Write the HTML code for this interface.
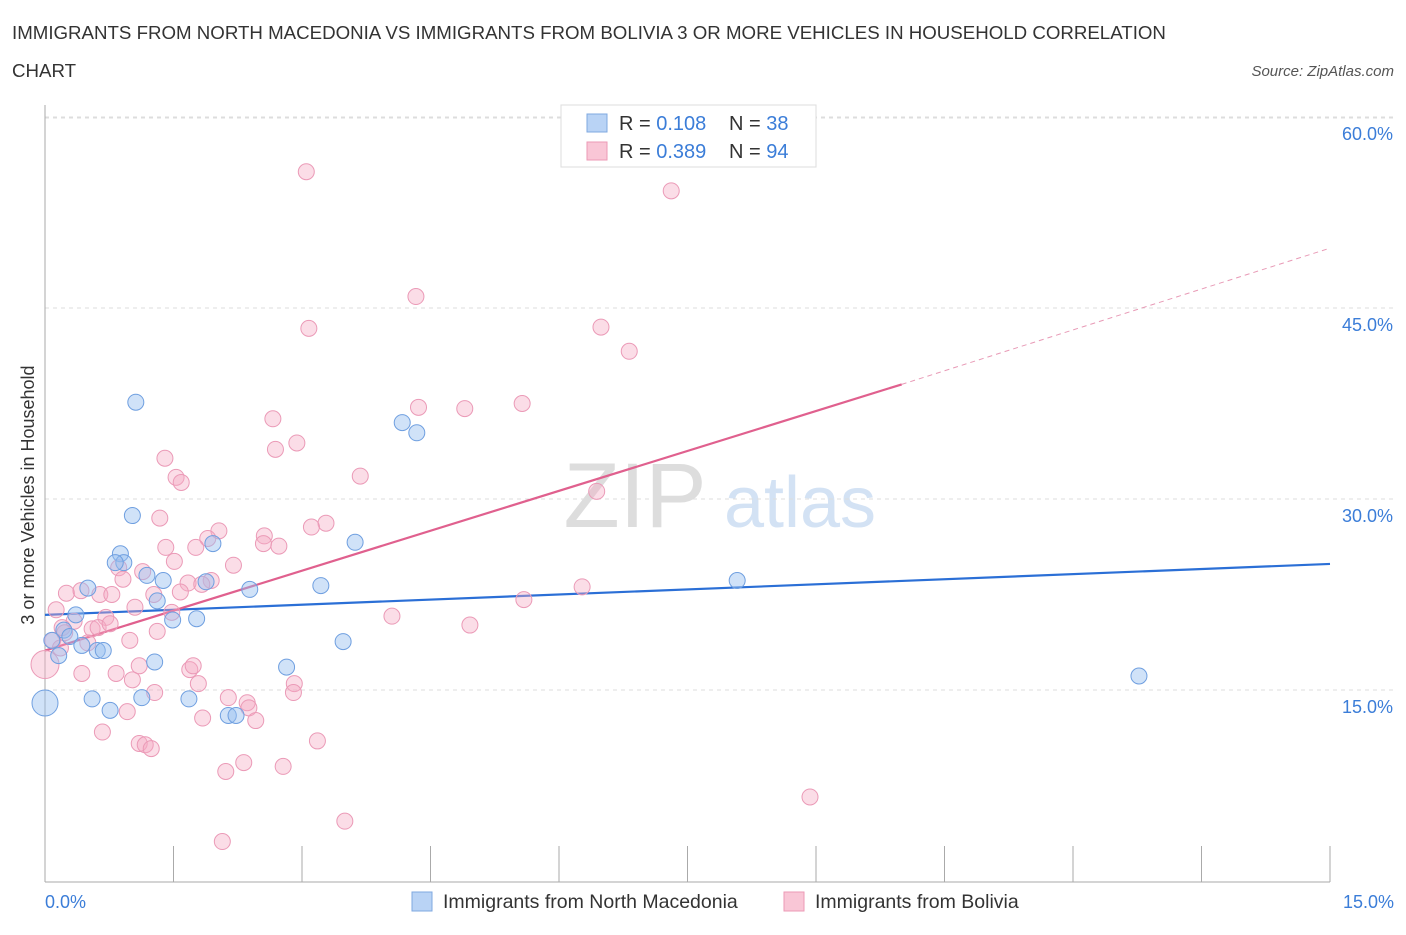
<!DOCTYPE html>
<html><head><meta charset="utf-8"><style>
body{margin:0;width:1406px;height:930px;background:#fff;font-family:"Liberation Sans",sans-serif;overflow:hidden}
svg text{font-family:"Liberation Sans",sans-serif}
</style></head><body>
<svg id="chart" width="1406" height="930">
<text x="12" y="39" font-size="18.7" fill="#333">IMMIGRANTS FROM NORTH MACEDONIA VS IMMIGRANTS FROM BOLIVIA 3 OR MORE VEHICLES IN HOUSEHOLD CORRELATION</text>
<text x="12" y="77" font-size="18.7" fill="#333">CHART</text>
<text x="1394" y="76" font-size="15" fill="#555" font-style="italic" text-anchor="end">Source: ZipAtlas.com</text>
<g><text x="635" y="527" font-size="92" fill="#ddd" font-family="Liberation Serif" text-anchor="middle">ZIP</text><text x="800" y="527" font-size="72" fill="#d3e2f4" text-anchor="middle">atlas</text></g>
<g id="grid"></g><g id="axes"></g><g id="lines"></g><g id="points"></g>
<text transform="translate(34,495) rotate(-90)" font-size="18" fill="#333" text-anchor="middle">3 or more Vehicles in Household</text>
<text x="45" y="908" font-size="18" fill="#3b7dd8">0.0%</text>
<text x="1394" y="908" font-size="18" fill="#3b7dd8" text-anchor="end">15.0%</text>
<g>
<rect x="561" y="105" width="255" height="62" fill="#fff" stroke="#ddd"/>
<rect x="587" y="114" width="20" height="18" fill="#b9d3f5" stroke="#7fa8e0"/>
<rect x="587" y="142" width="20" height="18" fill="#f9c6d6" stroke="#ec9ab6"/>
<text x="619" y="130" font-size="20" fill="#333">R = <tspan fill="#3b7dd8">0.108</tspan><tspan x="729">N = </tspan><tspan fill="#3b7dd8">38</tspan></text>
<text x="619" y="158" font-size="20" fill="#333">R = <tspan fill="#3b7dd8">0.389</tspan><tspan x="729">N = </tspan><tspan fill="#3b7dd8">94</tspan></text>
</g>
<g>
<rect x="412" y="892" width="20" height="19" fill="#b9d3f5" stroke="#7fa8e0"/>
<text x="443" y="908" font-size="19.5" fill="#333">Immigrants from North Macedonia</text>
<rect x="784" y="892" width="20" height="19" fill="#f9c6d6" stroke="#ec9ab6"/>
<text x="815" y="908" font-size="19.5" fill="#333">Immigrants from Bolivia</text>
</g>
</svg>
<script>
const yTicks=[15,30,45,60];
const yTickLabels=["15.0%","30.0%","45.0%","60.0%"];
const xTicks=[0,1.5,3,4.5,6,7.5,9,10.5,12,13.5,15];
const blueX=[0,1.06,1.02,0.88,0.92,0.82,1.19,1.38,0.50,1.31,0.36,1.49,1.77,0.22,0.29,0.43,0.16,0.61,0.68,1.28,0.55,0.76,1.13,1.68,2.14,2.23,1.96,1.88,2.39,2.82,3.22,3.62,3.48,4.17,4.34,8.08,12.77,0.08];
const blueY=[13.98,37.6,28.7,25.7,25.0,25.0,24.0,23.6,23.0,22.0,20.9,20.5,20.6,19.7,19.2,18.5,17.7,18.1,18.1,17.2,14.3,13.4,14.4,14.3,13.0,13.0,26.5,23.5,22.9,16.8,23.2,26.6,18.8,36.0,35.2,23.6,16.1,18.9];
const pinkX=[3.05,7.31,4.33,3.08,6.49,6.82,4.36,4.90,5.57,2.66,2.94,2.69,1.40,1.53,1.59,3.68,6.44,1.34,3.28,3.11,2.03,1.90,2.56,2.55,2.73,1.76,1.41,1.51,2.20,0.86,1.14,0.91,1.67,1.94,1.83,6.27,0.25,0.42,0.64,0.78,1.27,1.58,5.59,0.13,1.05,1.48,4.05,0.71,0.34,0.20,0.55,0.62,0.76,4.96,1.31,0.23,0.09,0.50,0.99,0.18,0,0.43,0.83,1.10,1.69,1.73,1.02,1.79,2.91,1.28,2.90,2.14,2.36,2.38,0.96,1.84,2.46,0.67,1.10,1.17,1.24,3.18,2.32,2.11,2.78,8.93,3.50,2.07];
const pinkY=[55.7,54.2,45.9,43.4,43.5,41.6,37.2,37.1,37.5,36.3,34.4,33.9,33.2,31.7,31.3,31.8,30.6,28.5,28.1,27.8,27.5,26.9,27.1,26.5,26.3,26.2,26.2,25.1,24.8,24.6,24.3,23.7,23.4,23.6,23.3,23.1,22.6,22.8,22.5,22.5,22.5,22.7,22.1,21.3,21.5,21.1,20.8,20.7,20.4,19.9,19.8,19.9,20.2,20.1,19.6,19.5,18.9,18.7,18.9,18.3,17.0,16.3,16.3,16.9,16.6,16.9,15.8,15.5,15.5,14.8,14.8,14.4,14.0,13.6,13.3,12.8,12.6,11.7,10.8,10.7,10.4,11.0,9.3,8.6,9.0,6.6,4.7,3.1];
const blueTrend=[20.9,24.9];
const pinkTrend=[18.1,39.0,49.7];
const pinkSolidEnd=10.0;
const NS="http://www.w3.org/2000/svg";
const sx=v=>45+v/15*1285, sy=v=>881-v/15*191;
function mk(t,a,p){const e=document.createElementNS(NS,t);for(const k in a)e.setAttribute(k,a[k]);p.appendChild(e);return e;}
const grid=document.getElementById('grid'),axes=document.getElementById('axes'),lines=document.getElementById('lines'),pts=document.getElementById('points');
yTicks.forEach((v,i)=>{
 const l=mk('line',{x1:45,x2:1394,y1:sy(v),y2:sy(v),stroke:'#ddd','stroke-dasharray':'4,4'},grid);
 
 
 const t=mk('text',{x:1393,y:sy(v)+23,'font-size':18,fill:'#3b7dd8','text-anchor':'end'},grid);
 t.textContent=yTickLabels[i];
 
 
});
const topGrid=mk('line',{x1:45,x2:1394,y1:118,y2:118,stroke:'#ddd','stroke-dasharray':'4,4'},grid);


const ya=mk('line',{x1:45,x2:45,y1:105,y2:882,stroke:'#aaa'},axes);


const xa=mk('line',{x1:45,x2:1330,y1:882,y2:882,stroke:'#aaa'},axes);


xTicks.forEach(v=>{const t=mk('line',{x1:sx(v),x2:sx(v),y1:846,y2:882,stroke:'#aaa'},axes);
 
 });
const bl=mk('line',{x1:sx(0),y1:sy(blueTrend[0]),x2:sx(15),y2:sy(blueTrend[1]),stroke:'#2b6fd6','stroke-width':2.2},lines);


const pl=mk('line',{x1:sx(0),y1:sy(pinkTrend[0]),x2:sx(pinkSolidEnd),y2:sy(pinkTrend[1]),stroke:'#e0608e','stroke-width':2.2},lines);


const pd=mk('line',{x1:sx(pinkSolidEnd),y1:sy(pinkTrend[1]),x2:sx(15),y2:sy(pinkTrend[2]),stroke:'#e89ab6','stroke-width':1,'stroke-dasharray':'5,4'},lines);


pinkX.forEach((x,i)=>{const c=mk('circle',{cx:sx(x),cy:sy(pinkY[i]),r:x===0?14:8,fill:'rgba(244,170,196,0.4)',stroke:'#eb9ab7','stroke-width':1},pts);
 
 });
blueX.forEach((x,i)=>{const c=mk('circle',{cx:sx(x),cy:sy(blueY[i]),r:x===0?13:8,fill:'rgba(150,190,240,0.45)',stroke:'#6f9fe0','stroke-width':1},pts);
 
 });
</script>
</body></html>
